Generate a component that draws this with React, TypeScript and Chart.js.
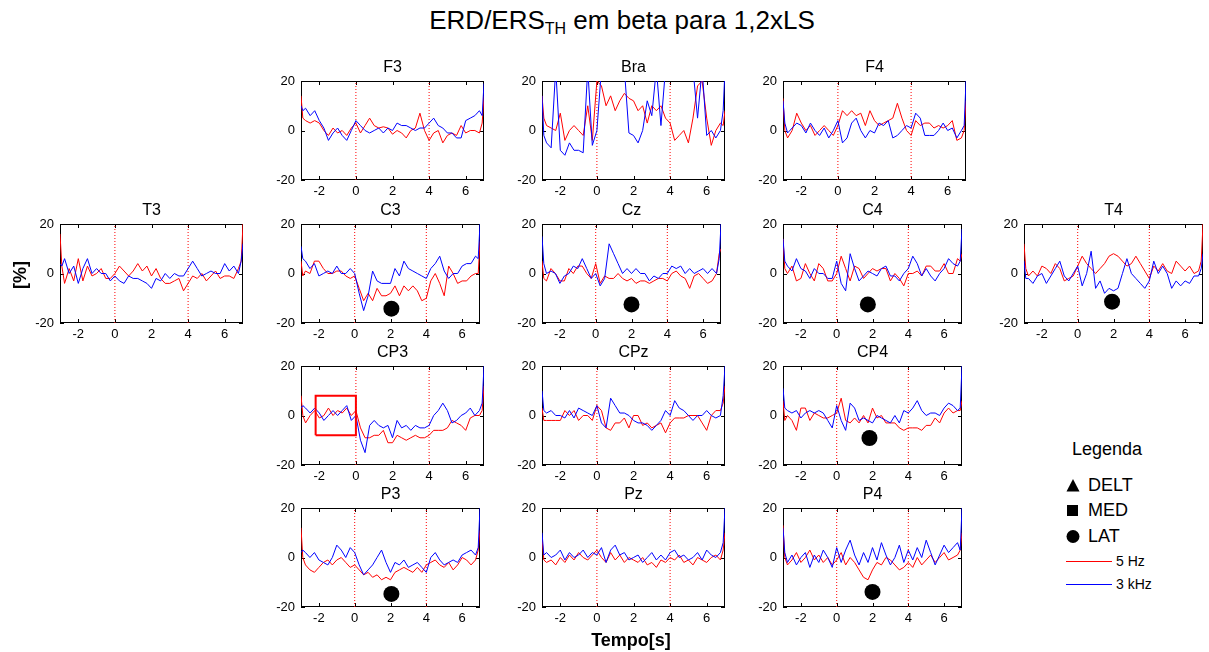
import { useEffect, useRef } from "react";
import { Chart, registerables } from "chart.js";

Chart.register(...registerables);

const FONT = '"Liberation Sans", Arial, Helvetica, sans-serif';

// Time axis in seconds (edge samples kept close to the borders)
const TIME = [
  -3, -2.9,
  -2.75, -2.5, -2.25, -2, -1.75, -1.5, -1.25, -1, -0.75, -0.5, -0.25, 0,
  0.25, 0.5, 0.75, 1, 1.25, 1.5, 1.75, 2, 2.25, 2.5, 2.75, 3, 3.25, 3.5, 3.75, 4,
  4.25, 4.5, 4.75, 5, 5.25, 5.5, 5.75, 6, 6.25, 6.5, 6.75,
  6.9, 7,
];

const X_TICKS = [-2, 0, 2, 4, 6];
const Y_TICKS = [-20, 0, 20];
const CUE_TIMES = [0, 4];

// ERD/ERS (%) per electrode: 5 Hz and 3 kHz stimulation
const F3_5HZ = [14, 5, 4, 3, 4, 3, 0, -2, 1, -1, 0, -2, 1, 3, -1, 2, 5, 2, 1, 1.5, 1, -1.5, 0, -1, -3, 0, 1, 7, 0, -4, -1, 0, -5, -2, -1, -2, 2, -1, 0, 0, -1, 3, 14];
const F3_3KHZ = [10, 8, 9, 6, 8, 4, 1, -4, -1, 1, -2, -4, 0, 4, 2, 0, -1, 0, 1, -1, 1, 0, 3, 2, 2, 1, 0, 1, 1, 3, 5, 2, 1, -1, -1, -3, -3, 4, 5, 6, 8, 6, 19];
const BRA_5HZ = [14, 5, 2, 1, 0, 7, -4, 0, 2, 0, -2, 10, -4, 20, 18, 10, 14, 8, 12, 15, 13, 12, 8, 10, 3, 10, 8, 10, 5, 3, -4, -2, 0, -5, 5, 18, 20, 5, -6, 0, 3, 2, 8];
const BRA_3KHZ = [14, -2, -5, -7, 25, -8, -10, -5, -8, -8, -9, 25, -6, 0, 25, 25, 25, 25, 22, 25, -1, -2, -5, 0, 12, 6, 25, 2, 25, 25, 25, 25, 25, 25, 25, 5, 25, -2, 0, -3, 0, 8, 25];
const F4_5HZ = [13, 0, -3, 0, 7, 3, 0, 2, -2, 0, 2, 0, -2, 2, 8, 6, 8, 6, 7, 2, 8, 4, 2, 3, 4, 5, 11, 5, 0, -2, 4, 2, 3, 3, 1, 2, 1, 2, 4, -4, -3, 0, 12];
const F4_3KHZ = [12, 3, -1, 1, 3, 2, -1, 3, 0, -2, 1, -3, 0, 4, -5, -3, 3, 5, 0, -3, 0, -1, 3, 2, 4, -3, -2, 0, 2, 1, 7, 5, -2, -2, -2, 0, 3, 0, 1, -3, 0, 2, 20];
const T3_5HZ = [16, 3, -4, 2, -3, 6, -3, 3, -1, 0, 2, -2, -2, 0, 3, 1, -1, 1, 4, 1, 3, -1, 2, -2, -4, -4, -3, -2, -7, -4, -1, -2, 0, -3, -1, 1, -2, -1, -1, -2, 2, 5, 20];
const T3_3KHZ = [4, 3, 6, 0, 3, -4, 2, 6, 0, 2, 0, 0, -3, -1, -3, -4, -1, -2, -2, -3, -4, -6, -2, -3, 0, -2, 0, -1, -1, 2, 5, 2, -1, 0, 1, 0, 0, 4, 1, 3, 0, 5, 12];
const C3_5HZ = [5, -1, 1, 0, 5, 5, 2, 0, 0, 1, 1, -1, -2, -1, -6, -11, -8, -11, -6, -9, -9, -8, -5, -9, -5, -7, -5, -7, -11, -10, -3, 0, -4, -9, 3, 0, -4, -3, -3, -1, 0, 0, 13];
const C3_3KHZ = [11, 6, 5, 2, 4, -1, 0, 1, 0, 3, 0, 0, 2, 0, -8, -15, -9, 1, -3, -4, -4, -4, 2, -1, 5, 2, 1, 0, -1, -2, 2, 4, 7, 1, -2, 0, 0, 3, 4, 4, 7, 6, 20];
const CZ_5HZ = [5, -2, -3, 2, 0, -3, -3, 2, 0, 3, 3, 0, -2, 4, -4, -1, -2, -2, 0, -2, -3, -2, -4, -3, -3, -4, -3, -2, -2, -3, 0, 1, -1, -2, -6, -1, 0, -2, -4, -3, 0, 8, 10];
const CZ_3KHZ = [15, 4, 0, 1, 0, -4, -1, 0, 3, 2, 6, 2, -2, 0, -5, -2, 12, 8, 4, 0, 2, 0, 2, 0, 0, -3, -1, -2, 0, 0, 3, 2, 3, 0, 2, 0, 1, 2, 0, 2, 0, 6, 20];
const C4_5HZ = [14, 2, 0, 3, -3, -2, 4, 0, -3, 4, 2, -3, -3, 0, 7, 2, -3, 3, 2, -2, 0, 2, 1, 2, 2, -3, 0, -2, -5, 0, 0, 1, -1, 3, 3, 1, 1, 4, 0, 0, 6, 5, 8];
const C4_3KHZ = [14, 5, 3, 1, 6, 2, 1, -2, 2, 0, 0, -2, -2, 5, -4, -7, 8, 2, -3, -1, 1, 0, -1, 2, 3, -1, -1, -3, 0, 2, 7, 4, -1, 2, -1, -3, 0, 2, 6, 4, 3, 5, 18];
const T4_5HZ = [12, 2, -1, 1, -1, 3, 2, 0, 4, 2, -3, -2, -1, 3, 7, 4, 2, 0, 2, 4, 7, 8, 7, 5, 3, 4, 7, 4, 1, -2, 3, 1, 4, 1, 0, 5, 3, 1, 3, 0, 1, 5, 20];
const T4_3KHZ = [5, -2, -2, -4, -1, 0, -4, -1, 2, 5, -1, -3, 0, 3, -5, 0, 9, -6, -3, -8, -6, -7, -6, 0, 6, 0, -2, -4, -6, -3, 5, 0, 3, 0, -6, -3, -5, -3, -4, -1, -1, 2, 8];
const CP3_5HZ = [8, 0, -3, 0, 2, -1, 0, 3, 0, 2, 1, 3, 0, 2, -5, -9, -9, -8, -8, -6, -11, -11, -8, -9, -10, -9, -8, -9, -9, -8, -6, -6, -6, -5, -2, -3, -4, -6, -1, 0, 0, 2, 12];
const CP3_3KHZ = [3, 4, 3, 1, 3, 1, -2, 0, 2, 0, 2, 4, -2, 0, -10, -15, -4, -2, -4, -5, -4, -9, -2, -5, -4, -6, -4, -5, -5, -4, 0, 2, 5, 2, -3, -2, 0, 1, 3, 0, 2, 5, 20];
const CPZ_5HZ = [3, -2, -2, -2, -2, -2, 2, 0, 2, -2, 0, 0, -2, 4, 2, -5, -6, -3, -3, -1, -5, 0, 0, -4, -3, -5, -4, -3, -7, -3, -1, -1, -1, 0, 0, 0, -3, -6, 0, 2, 2, 5, 12];
const CPZ_3KHZ = [10, 2, 1, 2, 0, 0, -1, 2, -1, 3, 2, 1, 0, 4, -3, -5, 7, 4, 1, 1, 0, -2, -3, -3, -4, -6, -4, -2, 2, 0, 6, 3, 2, 0, -2, 0, 0, 2, 0, -1, 0, 8, 20];
const CP4_5HZ = [6, -2, 0, -2, -6, 3, 3, -2, 1, 0, -1, -1, 0, 1, 7, -2, -3, -1, -3, 0, -3, 3, -1, 0, -3, -3, -3, -5, -6, -5, -5, -5, -6, -4, -4, -1, -3, 1, 3, 1, 2, 2, 6];
const CP4_3KHZ = [11, 3, 2, 1, 2, -1, 1, 2, 1, 2, 1, -2, -5, 4, -2, -6, 5, 3, -2, -1, -2, -3, 0, -1, -2, -3, 0, -3, 2, 1, 3, 6, 2, 0, 1, 1, 0, 3, 5, 4, 2, 3, 20];
const P3_5HZ = [12, 0, -3, -5, -6, -4, -2, -1, -3, -1, 0, -2, -4, -3, -5, -7, -6, -8, -7, -9, -8, -9, -6, -5, -4, -5, -6, -4, -6, -3, -2, -1, -3, -4, -2, -5, -3, 0, -1, -3, -1, 3, 11];
const P3_3KHZ = [2, 3, 2, 0, 2, -1, -2, -3, 0, 5, 3, 0, 4, 2, -3, -7, -5, -3, 0, 3, -2, -6, -2, -3, -1, -4, -3, -2, -4, -6, 0, 2, -1, -3, -2, -1, -2, 1, 2, 3, 1, 4, 20];
const PZ_5HZ = [8, -1, -2, -1, -3, 0, -2, 1, -1, 2, 0, -1, 1, 3, 0, -2, 2, -1, 1, -2, 0, -1, -2, 0, -3, -2, -4, -1, -2, 0, -1, 1, -2, -1, -3, 0, -1, -2, 0, 1, -1, 3, 10];
const PZ_3KHZ = [10, 1, 2, 0, 1, 3, -1, 2, 0, 1, 3, 0, 2, 1, 4, -2, 3, 5, 1, 2, -1, 0, 1, -2, 0, 2, -1, 1, -1, 2, 3, 0, 1, -1, 0, 2, -1, 3, 1, 0, 2, 6, 20];
const P4_5HZ = [13, 0, -3, -1, 2, -2, 0, 3, -1, 1, -2, 0, -3, -1, 2, -3, 0, -2, -5, -8, -9, -5, -2, -3, 0, -1, -3, -5, -4, -2, -4, 0, -3, -1, 1, -2, 0, 2, -1, 0, 1, 3, 10];
const P4_3KHZ = [12, 2, -2, 1, -3, 0, 2, -4, 1, -2, 3, 0, -4, 4, -2, 3, 7, 1, -3, 2, -2, 4, -1, 6, 1, -3, 0, 5, -2, 3, -1, 4, 0, 7, 2, -3, 1, 5, 2, 4, 6, 3, 20];

// LAT markers: electrode, time (s), value (%)
const LAT_MARKS: [string, number, number][] = [
  ["C3", 2.05, -14.2],
  ["Cz", 2.0, -12.5],
  ["C4", 1.74, -12.5],
  ["T4", 1.92, -11.4],
  ["CP4", 1.83, -9.1],
  ["P3", 2.05, -14.7],
  ["P4", 2.0, -13.9],
];

// Baseline window highlighted on CP3
const CP3_WINDOW_T = [-2.2, 0];
const CP3_WINDOW_V = [-8, 8];

const SERIES: Record<string, [number[], number[]]> = {
  F3: [F3_5HZ, F3_3KHZ],
  Bra: [BRA_5HZ, BRA_3KHZ],
  F4: [F4_5HZ, F4_3KHZ],
  T3: [T3_5HZ, T3_3KHZ],
  C3: [C3_5HZ, C3_3KHZ],
  Cz: [CZ_5HZ, CZ_3KHZ],
  C4: [C4_5HZ, C4_3KHZ],
  T4: [T4_5HZ, T4_3KHZ],
  CP3: [CP3_5HZ, CP3_3KHZ],
  CPz: [CPZ_5HZ, CPZ_3KHZ],
  CP4: [CP4_5HZ, CP4_3KHZ],
  P3: [P3_5HZ, P3_3KHZ],
  Pz: [PZ_5HZ, PZ_3KHZ],
  P4: [P4_5HZ, P4_3KHZ],
};

// Scalp layout: electrode, column, row
const LAYOUT: [string, number, number][] = [
  ["F3", 1, 0], ["Bra", 2, 0], ["F4", 3, 0],
  ["T3", 0, 1], ["C3", 1, 1], ["Cz", 2, 1], ["C4", 3, 1], ["T4", 4, 1],
  ["CP3", 1, 2], ["CPz", 2, 2], ["CP4", 3, 2],
  ["P3", 1, 3], ["Pz", 2, 3], ["P4", 3, 3],
];

const COL_X = [60, 301, 542, 783, 1024];
const ROW_Y = [81, 224, 366, 508];
const BOX_W = 183;
const BOX_H = 99;
const PAD_L = 40;
const PAD_T = 30;
const PAD_B = 24;
const PAD_R = 4;
const CW = PAD_L + BOX_W + PAD_R;
const CH = PAD_T + BOX_H + PAD_B;

const RED = "#ff0000";
const BLUE = "#0000ff";

const framePlugin = {
  id: "axesFrame",
  beforeDatasetsDraw(chart: any, _args: any, opts: any) {
    const { ctx, chartArea } = chart;
    const { left, right, top, bottom } = chartArea;
    const xs = chart.scales.x;
    const ys = chart.scales.y;
    ctx.save();
    ctx.fillStyle = "#000";
    ctx.font = `16px ${FONT}`;
    ctx.textAlign = "center";
    ctx.textBaseline = "alphabetic";
    ctx.fillText(opts.title, (left + right) / 2, top - 9);
    ctx.strokeStyle = "#000";
    ctx.lineWidth = 1;
    ctx.strokeRect(left + 0.5, top + 0.5, right - left - 1, bottom - top - 1);
    ctx.beginPath();
    for (const v of X_TICKS) {
      const px = Math.round(xs.getPixelForValue(v)) + 0.5;
      ctx.moveTo(px, bottom);
      ctx.lineTo(px, bottom - 4);
      ctx.moveTo(px, top);
      ctx.lineTo(px, top + 4);
    }
    for (const v of Y_TICKS) {
      const py = Math.round(ys.getPixelForValue(v)) + 0.5;
      ctx.moveTo(left, py);
      ctx.lineTo(left + 4, py);
      ctx.moveTo(right, py);
      ctx.lineTo(right - 4, py);
    }
    ctx.stroke();
    ctx.restore();
  },
};

function Panel({ name, left, top }: { name: string; left: number; top: number }) {
  const ref = useRef<HTMLCanvasElement>(null);

  useEffect(() => {
    if (!ref.current) return;
    const [red, blue] = SERIES[name];
    const toXY = (vals: number[]) => TIME.map((t, i) => ({ x: t, y: vals[i] }));

    const datasets: any[] = [];
    CUE_TIMES.forEach((t) => {
      datasets.push({
        data: [{ x: t, y: -20 }, { x: t, y: 20 }],
        borderColor: RED,
        borderWidth: 1,
        borderDash: [1, 2],
        pointRadius: 0,
        order: 5,
      });
    });
    datasets.push({ data: toXY(red), borderColor: RED, borderWidth: 1, pointRadius: 0, order: 4 });
    datasets.push({ data: toXY(blue), borderColor: BLUE, borderWidth: 1, pointRadius: 0, order: 3 });

    if (name === "CP3") {
      const [t0, t1] = CP3_WINDOW_T;
      const [v0, v1] = CP3_WINDOW_V;
      datasets.push({
        data: [
          { x: t0, y: v0 }, { x: t1, y: v0 }, { x: t1, y: v1 }, { x: t0, y: v1 }, { x: t0, y: v0 },
        ],
        borderColor: RED,
        borderWidth: 2,
        pointRadius: 0,
        order: 2,
      });
    }

    const marks = LAT_MARKS.filter((m) => m[0] === name);
    if (marks.length) {
      datasets.push({
        data: marks.map((m) => ({ x: m[1], y: m[2] })),
        showLine: false,
        pointRadius: 8,
        pointBackgroundColor: "#000",
        pointBorderWidth: 0,
        borderColor: "#000",
        order: 1,
      });
    }

    const chart = new Chart(ref.current, {
      type: "line",
      data: { datasets },
      plugins: [framePlugin],
      options: {
        responsive: false,
        animation: false,
        devicePixelRatio: 1,
        events: [],
        layout: { padding: { top: PAD_T, right: PAD_R, left: 0, bottom: 0 } },
        elements: { line: { tension: 0 } },
        plugins: {
          legend: { display: false },
          tooltip: { enabled: false },
          title: { display: false },
          axesFrame: { title: name },
        } as any,
        scales: {
          x: {
            type: "linear",
            min: -3,
            max: 7,
            afterBuildTicks: (a: any) => {
              a.ticks = X_TICKS.map((v) => ({ value: v }));
            },
            afterFit: (s: any) => {
              s.height = PAD_B;
            },
            grid: { display: false, drawTicks: false },
            border: { display: false },
            ticks: {
              color: "#000",
              font: { family: FONT, size: 13 },
              padding: 4,
              maxRotation: 0,
              autoSkip: false,
            },
          },
          y: {
            type: "linear",
            min: -20,
            max: 20,
            afterBuildTicks: (a: any) => {
              a.ticks = Y_TICKS.map((v) => ({ value: v }));
            },
            afterFit: (s: any) => {
              s.width = PAD_L;
            },
            grid: { display: false, drawTicks: false },
            border: { display: false },
            ticks: {
              color: "#000",
              font: { family: FONT, size: 13 },
              padding: 6,
              autoSkip: false,
            },
          },
        },
      } as any,
    });
    return () => chart.destroy();
  }, [name]);

  return (
    <canvas
      ref={ref}
      width={CW}
      height={CH}
      style={{ position: "absolute", left: left - PAD_L, top: top - PAD_T, width: CW, height: CH }}
    />
  );
}

function LegendRow({ y, children, label }: { y: number; children: any; label: string }) {
  return (
    <div style={{ position: "absolute", left: 1064, top: y - 10, height: 20, display: "flex", alignItems: "center" }}>
      <svg width={18} height={20} style={{ display: "block" }}>
        {children}
      </svg>
      <span style={{ marginLeft: 6, font: `18px ${FONT}`, lineHeight: "20px", color: "#000" }}>{label}</span>
    </div>
  );
}

function LineKey({ y, color, label }: { y: number; color: string; label: string }) {
  return (
    <>
      <div style={{ position: "absolute", left: 1066, top: y, width: 46, height: 1, background: color }} />
      <div style={{ position: "absolute", left: 1116, top: y - 8, font: `14px ${FONT}`, lineHeight: "16px", color: "#000" }}>
        {label}
      </div>
    </>
  );
}

export default function App() {
  return (
    <div
      style={{
        position: "fixed",
        left: 0,
        top: 0,
        width: 1209,
        height: 652,
        overflow: "hidden",
        background: "#fff",
        fontFamily: FONT,
      }}
    >
      <div
        style={{
          position: "absolute",
          left: 622,
          top: 7,
          transform: "translateX(-50%)",
          whiteSpace: "nowrap",
          font: `26px ${FONT}`,
          lineHeight: "26px",
          color: "#000",
        }}
      >
        ERD/ERS<span style={{ fontSize: 16, position: "relative", top: 5 }}>TH</span> em beta para 1,2xLS
      </div>

      {LAYOUT.map(([name, c, r]) => (
        <Panel key={name} name={name} left={COL_X[c]} top={ROW_Y[r]} />
      ))}

      <div
        style={{
          position: "absolute",
          left: 20,
          top: 275,
          transform: "translate(-50%, -50%) rotate(-90deg)",
          font: `bold 18px ${FONT}`,
          lineHeight: "18px",
          whiteSpace: "nowrap",
          color: "#000",
        }}
      >
        [%]
      </div>
      <div
        style={{
          position: "absolute",
          left: 631,
          top: 640,
          transform: "translate(-50%, -50%)",
          font: `bold 18px ${FONT}`,
          lineHeight: "18px",
          whiteSpace: "nowrap",
          color: "#000",
        }}
      >
        Tempo[s]
      </div>

      <div style={{ position: "absolute", left: 1072, top: 439, font: `18px ${FONT}`, lineHeight: "20px", color: "#000" }}>
        Legenda
      </div>
      <LegendRow y={485} label="DELT">
        <polygon points="2.5,16.5 9,4 15.5,16.5" fill="#000" />
      </LegendRow>
      <LegendRow y={510} label="MED">
        <rect x={3} y={5} width={11} height={11} fill="#000" />
      </LegendRow>
      <LegendRow y={536} label="LAT">
        <circle cx={9} cy={10.5} r={6.5} fill="#000" />
      </LegendRow>
      <LineKey y={561} color={RED} label="5 Hz" />
      <LineKey y={584} color={BLUE} label="3 kHz" />
    </div>
  );
}
